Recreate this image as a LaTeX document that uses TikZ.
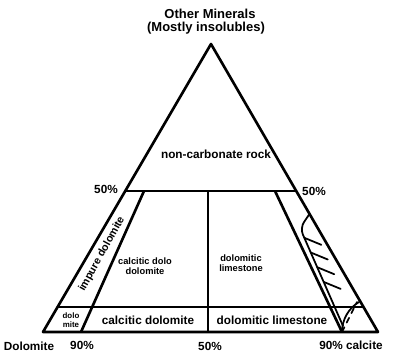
\documentclass[tikz,border=0pt]{standalone}
\usepackage{fontspec}
\setmainfont{Liberation Sans}
\usetikzlibrary{calc}

\begin{document}
\begin{tikzpicture}[x=0.02cm,y=-0.02cm,
	edge/.style={line width=1.5pt,line join=round},
	hatch/.style={line width=1pt,line cap=round},
	small/.style={font=\fontsize{5.3}{6}\selectfont\bfseries},
	every node/.style={
		inner sep=0pt,
		align=center,
		font=\fontsize{6.7}{7.2}\selectfont\bfseries
	}]
	
	\useasboundingbox (0,0) rectangle (406,359);
	
	\coordinate (dol) at (43,332);
	\coordinate (cal) at (378,332);
	\coordinate (oth) at (211,44);
	
	\coordinate (l50) at ($(dol)!0.49!(oth)$);
	\coordinate (r50) at ($(cal)!0.49!(oth)$);
	\coordinate (lband) at ($(dol)!0.087!(oth)$);
	\coordinate (rband) at ($(cal)!0.087!(oth)$);
	
	\coordinate (imptop) at (144,191);
	\coordinate (impbot) at (81,332);
	\coordinate (limtop) at (275,191);
	\coordinate (limbot) at (342,332);
	\coordinate (midtop) at (208,191);
	\coordinate (midbot) at (208,332);
	
	\draw[edge] (dol) -- (cal) -- (oth) -- cycle;
	\draw[edge] (l50) -- (r50);
	\draw[edge] (lband) -- (rband);
	\draw[edge] (imptop) -- (impbot);
	\draw[edge] (limtop) -- (limbot);
	\draw[edge] (midtop) -- (midbot);
	
	\coordinate (hattop) at ($(cal)!0.41!(oth)$);
	\coordinate (hatbend) at (300,228);
	\coordinate (hatbot) at (343,326);
	\draw[hatch,rounded corners=4pt] (hattop) -- (hatbend) -- (hatbot);
	\foreach \s in {0.1,0.25,0.4,0.55}
		\draw[hatch] ($(hatbend)!\s!(hatbot)$) -- ++(17,7);
	\draw[hatch,dashed] (limbot) -- (357,302);
	\draw[hatch] (limbot) arc[start angle=180,end angle=239,radius=35];
	
	\node[font=\fontsize{7.4}{8}\selectfont\bfseries] (title) at (210,14) {Other Minerals};
	\node[font=\fontsize{7.4}{8}\selectfont\bfseries] (subtitle) at (206,28) {(Mostly insolubles)};
	\node (noncarb) at (216,154) {non-carbonate rock};
	\node (l50lab) at (106,189) {50\%};
	\node (r50lab) at (314,191) {50\%};
	\node[rotate=61,font=\fontsize{6.1}{6.5}\selectfont\bfseries] (impure) at (102,254) {impure dolomite};
	\node[small] (caldolo) at (145,266) {calcitic dolo\\dolomite};
	\node[small] (dollime) at (241,263) {dolomitic\\limestone};
	\node (caldol) at (148,320) {calcitic dolomite};
	\node (dollim) at (272,320) {dolomitic limestone};
	\node[font=\fontsize{4.5}{5}\selectfont\bfseries] (dolomite) at (71,320) {dolo\\mite};
	\node (dolcorner) at (29,346) {Dolomite};
	\node (n90l) at (82,345) {90\%};
	\node (n50b) at (210,346) {50\%};
	\node (calcorner) at (351,345) {90\% calcite};
	
\end{tikzpicture}
\end{document}
